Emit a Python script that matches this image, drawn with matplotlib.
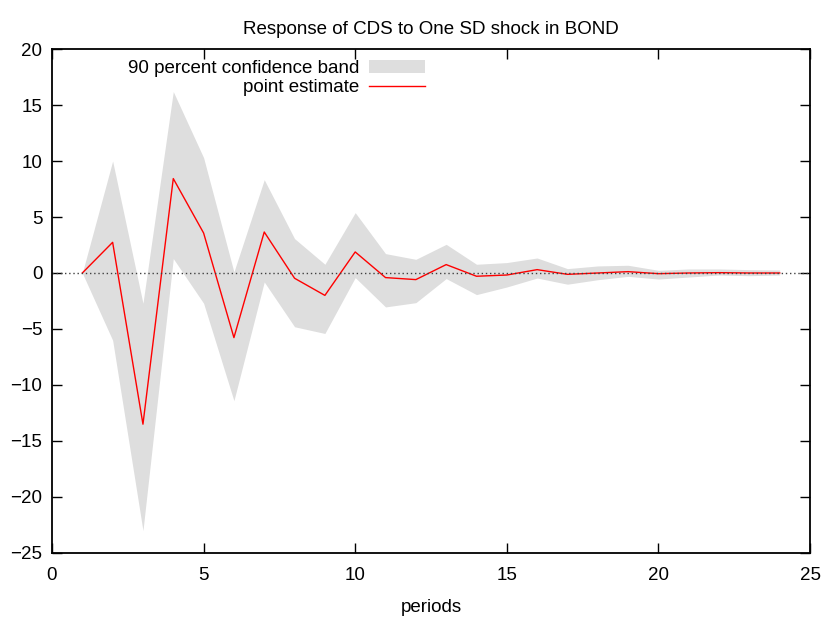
import matplotlib
matplotlib.use("Agg")
import matplotlib.pyplot as plt
import numpy as np

plt.rcParams['font.family'] = ['Liberation Sans', 'DejaVu Sans']

periods = np.arange(1, 25)
point = [0.0, 2.74, -13.5, 8.43, 3.57, -5.77, 3.66, -0.47, -2.0, 1.88,
         -0.41, -0.59, 0.75, -0.29, -0.18, 0.3, -0.12, 0.0, 0.12, -0.06,
         0.0, 0.03, 0.0, 0.0]
upper = [0.0, 10.0, -2.7, 16.2, 10.3, 0.1, 8.33, 3.07, 0.78, 5.39,
         1.73, 1.22, 2.56, 0.78, 0.93, 1.34, 0.39, 0.63, 0.69, 0.24,
         0.36, 0.36, 0.3, 0.27]
lower = [0.0, -6.0, -23.0, 1.29, -2.7, -11.4, -0.8, -4.8, -5.4, -0.41,
         -3.03, -2.65, -0.5, -1.93, -1.25, -0.45, -1.0, -0.6, -0.3, -0.54,
         -0.36, -0.18, -0.24, -0.18]

fig = plt.figure(figsize=(8.28, 6.18), dpi=100)
ax = fig.add_axes([0.0628, 0.1052, 0.9155, 0.8155])

ax.fill_between(periods, lower, upper, color='#dedede', lw=0,
                label='90 percent confidence band')
ax.plot(periods, point, color='red', lw=1, label='point estimate')
ax.axhline(0, color='#404040', lw=1, ls=(0, (1, 2)))

ax.set_xlim(0, 25)
ax.set_ylim(-25, 20)
ax.set_xticks(range(0, 26, 5))
ax.set_yticks(range(-25, 21, 5))
ax.tick_params(direction='in', length=7, width=1, top=True, right=True,
               labelsize=13.5, pad=7)
ax.tick_params(axis='x', pad=10)
for s in ax.spines.values():
    s.set_linewidth(1.3)

ax.set_xlabel('periods', fontsize=13.5, labelpad=11)
ax.set_title('Response of CDS to One SD shock in BOND', fontsize=13.5, pad=11)

leg = ax.legend(loc='upper right', bbox_to_anchor=(0.507, 1.0), frameon=False,
                fontsize=13.5, markerfirst=False, handlelength=3.0,
                handletextpad=0.5, labelspacing=0.1, borderaxespad=0.2)
for t in leg.get_texts():
    t.set_ha('right')

fig.savefig('out.png', dpi=100)
